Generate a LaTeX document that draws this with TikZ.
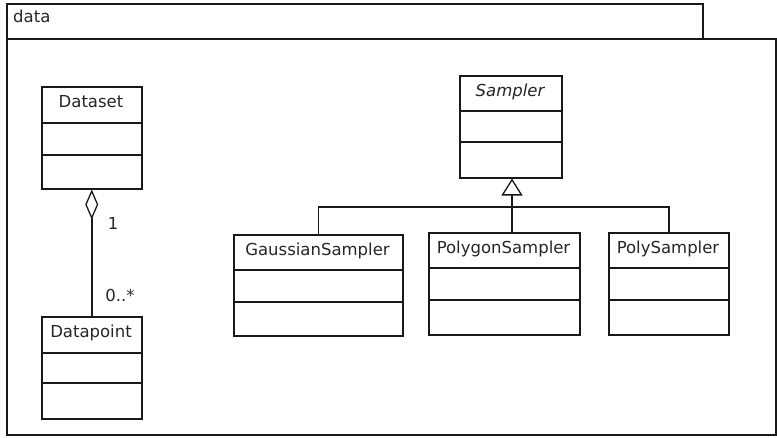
\documentclass[tikz,border=0pt]{standalone}
\usepackage{fontspec}
\setmainfont{DejaVu Sans}
\usetikzlibrary{shadows,arrows.meta}

\tikzset{
  umlline/.style={line width=1.5pt, draw=black!90},
  umlshadow/.style={drop shadow={shadow xshift=1.6pt, shadow yshift=-1.6pt, fill=black!35, opacity=0.6}},
  classbox/.style={umlline, fill=white, umlshadow, rectangle, inner sep=0pt, anchor=north west},
  classname/.style={anchor=base, inner sep=0pt, text=black!85, font=\fontsize{16.5}{20}\selectfont},
  multlabel/.style={anchor=center, inner sep=0pt, text=black!85, font=\fontsize{16.5}{20}\selectfont},
  generalize/.style={umlline, -{Triangle[open, length=17pt, width=21pt, line width=1.3pt]}},
  aggregate/.style={umlline, -{Diamond[open, length=30pt, width=13pt, line width=1.3pt]}},
}

\begin{document}
\begin{tikzpicture}[x=1pt, y=-1pt]
\useasboundingbox (0,0) rectangle (777,437);

% package frame: tab and body
\node[classbox, minimum width=696pt, minimum height=35pt] (pkgtab) at (6,3) {};
\node[classbox, minimum width=769pt, minimum height=396pt] (pkgbody) at (6,38) {};
\node[classname, anchor=base west] (pkgname) at (13,22) {data};

% Dataset
\node[classbox, minimum width=100pt, minimum height=102pt] (dataset) at (41,86) {};
\draw[umlline] ([yshift=-37pt]dataset.north west) -- ([yshift=-37pt]dataset.north east);
\draw[umlline] ([yshift=-69pt]dataset.north west) -- ([yshift=-69pt]dataset.north east);
\node[classname] (datasetname) at (91,107) {Dataset};

% Datapoint
\node[classbox, minimum width=100pt, minimum height=102pt] (datapoint) at (41,316) {};
\draw[umlline] ([yshift=-37pt]datapoint.north west) -- ([yshift=-37pt]datapoint.north east);
\draw[umlline] ([yshift=-67pt]datapoint.north west) -- ([yshift=-67pt]datapoint.north east);
\node[classname] (datapointname) at (91,337) {Datapoint};

% Sampler (abstract)
\node[classbox, minimum width=102pt, minimum height=102pt] (sampler) at (459,75) {};
\draw[umlline] ([yshift=-36pt]sampler.north west) -- ([yshift=-36pt]sampler.north east);
\draw[umlline] ([yshift=-67pt]sampler.north west) -- ([yshift=-67pt]sampler.north east);
\node[classname, font=\fontsize{16.5}{20}\selectfont\itshape] (samplername) at (510,96) {Sampler};

% GaussianSampler
\node[classbox, minimum width=169pt, minimum height=101pt] (gauss) at (233,234) {};
\draw[umlline] ([yshift=-36pt]gauss.north west) -- ([yshift=-36pt]gauss.north east);
\draw[umlline] ([yshift=-68pt]gauss.north west) -- ([yshift=-68pt]gauss.north east);
\node[classname] (gaussname) at (317.5,255) {GaussianSampler};

% PolygonSampler
\node[classbox, minimum width=151pt, minimum height=102pt] (polygon) at (428,232) {};
\draw[umlline] ([yshift=-36pt]polygon.north west) -- ([yshift=-36pt]polygon.north east);
\draw[umlline] ([yshift=-68pt]polygon.north west) -- ([yshift=-68pt]polygon.north east);
\node[classname] (polygonname) at (503.5,253) {PolygonSampler};

% PolySampler
\node[classbox, minimum width=120pt, minimum height=102pt] (poly) at (608,232) {};
\draw[umlline] ([yshift=-36pt]poly.north west) -- ([yshift=-36pt]poly.north east);
\draw[umlline] ([yshift=-68pt]poly.north west) -- ([yshift=-68pt]poly.north east);
\node[classname] (polyname) at (668,253) {PolySampler};

% generalization tree
\coordinate (junction) at (512,207);
\draw[umlline] (gauss.north) |- (junction);
\draw[umlline] (poly.north) |- (junction);
\draw[umlline] (polygon.north -| junction) -- (junction);
\draw[generalize] (junction) -- (sampler.south -| junction);

% aggregation Dataset <>-- Datapoint
\draw[aggregate] (datapoint.north) -- (dataset.south);
\node[multlabel] (multone) at (113,223) {1};
\node[multlabel] (multmany) at (120,295) {0..*};
\end{tikzpicture}
\end{document}
